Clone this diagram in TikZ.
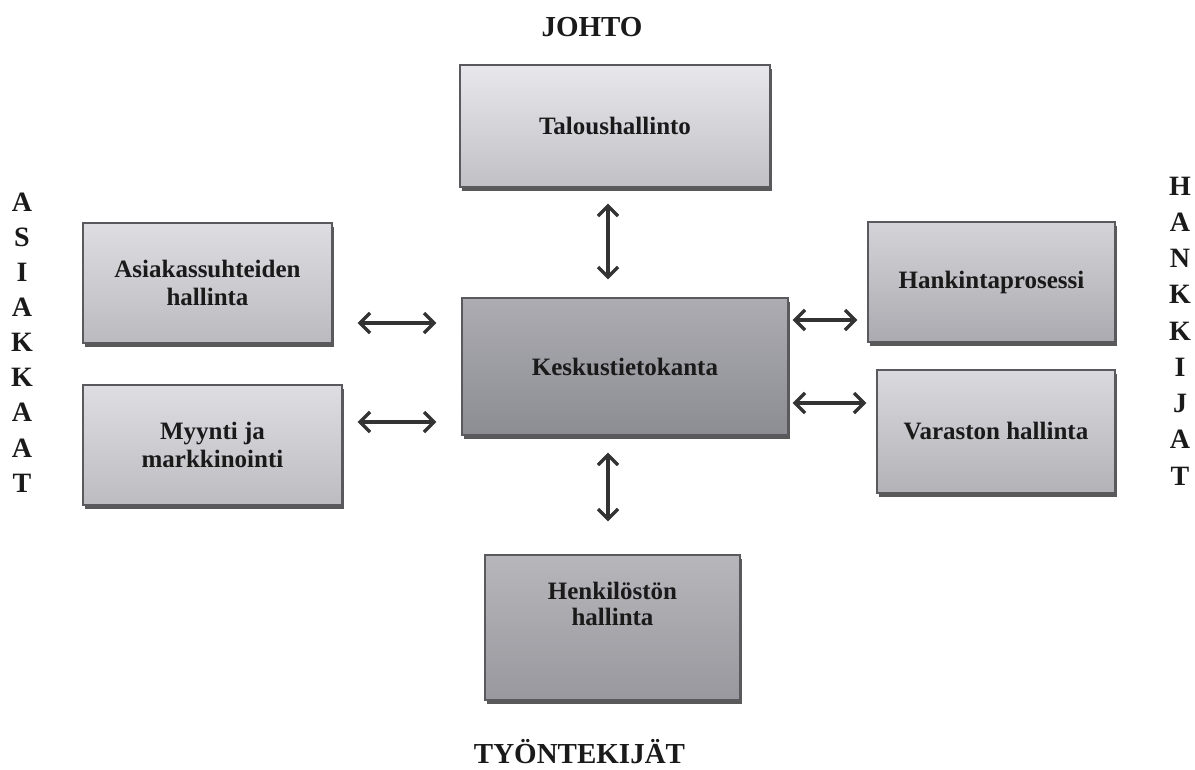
\documentclass[tikz,border=0pt]{standalone}
\usepackage{fontspec}
\setmainfont{Liberation Serif}
\usetikzlibrary{arrows.meta,shadows}
\definecolor{txt}{HTML}{1A1A1A}
\definecolor{edge}{HTML}{5A5A5E}
\definecolor{arrowc}{HTML}{333333}
\tikzset{
  boxstyle/.style={draw=edge, line width=1.2pt, align=center, text=txt,
    font=\fontsize{25}{28}\selectfont\bfseries, inner sep=0pt,
    general shadow={fill=black!65, shadow xshift=2pt, shadow yshift=-3.5pt}},
  heading/.style={text=txt, font=\fontsize{29}{36}\selectfont\bfseries, inner sep=0pt},
  arr/.style={draw=arrowc, line width=3.4pt, {Straight Barb[length=10pt,width=20pt]}-{Straight Barb[length=10pt,width=20pt]}}
}
\begin{document}
\begin{tikzpicture}[x=1pt,y=-1pt]
\useasboundingbox (0,0) rectangle (1195,769);
% boxes
\node[boxstyle, top color={rgb,255:red,232;green,232;blue,236}, bottom color={rgb,255:red,192;green,192;blue,197},
  minimum width=310pt, minimum height=122pt] (talous) at (615,126) {Taloushallinto};
\node[boxstyle, top color={rgb,255:red,172;green,172;blue,178}, bottom color={rgb,255:red,140;green,140;blue,147},
  minimum width=326pt, minimum height=137pt] (keskus) at (625,366.5) {Keskustietokanta};
\node[boxstyle, top color={rgb,255:red,222;green,222;blue,226}, bottom color={rgb,255:red,186;green,186;blue,191},
  minimum width=249pt, minimum height=120pt] (asiakas) at (207.5,283) {Asiakassuhteiden\\hallinta};
\node[boxstyle, top color={rgb,255:red,222;green,222;blue,226}, bottom color={rgb,255:red,188;green,188;blue,193},
  minimum width=259pt, minimum height=120pt] (myynti) at (212.5,445) {Myynti ja\\markkinointi};
\node[boxstyle, top color={rgb,255:red,212;green,212;blue,216}, bottom color={rgb,255:red,170;green,170;blue,176},
  minimum width=247pt, minimum height=120pt] (hank) at (991.5,282) {Hankintaprosessi};
\node[boxstyle, top color={rgb,255:red,218;green,218;blue,222}, bottom color={rgb,255:red,178;green,178;blue,183},
  minimum width=238pt, minimum height=123pt] (varasto) at (996,431.5) {Varaston hallinta};
\node[boxstyle, top color={rgb,255:red,182;green,182;blue,187}, bottom color={rgb,255:red,152;green,152;blue,158},
  minimum width=255pt, minimum height=145pt] (henk) at (612.5,627.5) {};
\node[text=txt, align=center, font=\fontsize{25}{26}\selectfont\bfseries, inner sep=0pt] (henktext) at (612.5,604) {Henkilöstön\\hallinta};
% headings
\node[heading] (johto) at (592,27) {JOHTO};
\node[heading] (tyont) at (579.5,752) {TYÖNTEKIJÄT};
\node[heading, align=center, font=\fontsize{28}{35.1}\selectfont\bfseries] (asiakkaat) at (22,342.5) {A\\S\\I\\A\\K\\K\\A\\A\\T};
\node[heading, align=center, font=\fontsize{28}{36.25}\selectfont\bfseries] (hankkijat) at (1180,331) {H\\A\\N\\K\\K\\I\\J\\A\\T};
% connectors
\draw[arr] ([xshift=-7pt,yshift=-16pt]talous.south) -- ([xshift=-17pt,yshift=18pt]keskus.north);
\draw[arr] ([xshift=25pt,yshift=-40pt]asiakas.east) -- ([xshift=-25pt,yshift=43.5pt]keskus.west);
\draw[arr] ([xshift=15pt,yshift=23pt]myynti.east) -- ([xshift=-25pt,yshift=-55.5pt]keskus.west);
\draw[arr] ([xshift=4pt,yshift=46.5pt]keskus.east) -- ([xshift=-10pt,yshift=-38pt]hank.west);
\draw[arr] ([xshift=4pt,yshift=-36.5pt]keskus.east) -- ([xshift=-10pt,yshift=28.5pt]varasto.west);
\draw[arr] ([xshift=-17pt,yshift=-17pt]keskus.south) -- ([xshift=-4.5pt,yshift=33pt]henk.north);
\end{tikzpicture}
\end{document}
